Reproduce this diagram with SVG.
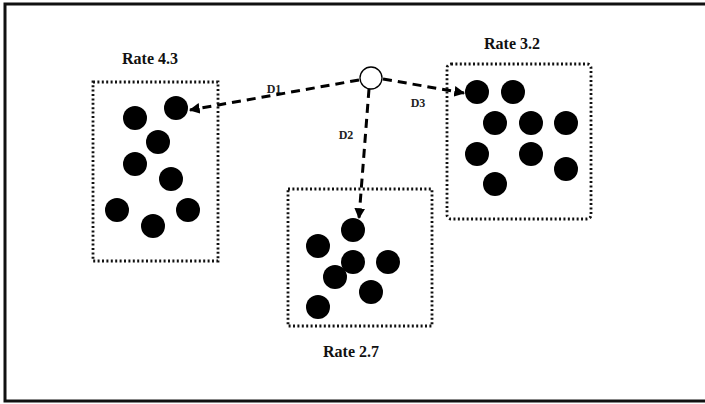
<svg xmlns="http://www.w3.org/2000/svg" width="705" height="404" viewBox="0 0 705 404">
  <defs>
    <marker id="arrow" viewBox="0 0 10 10" refX="9" refY="5" markerWidth="3.6" markerHeight="3.6" orient="auto" markerUnits="strokeWidth">
      <path d="M0,0 L10,5 L0,10 z" fill="#000"/>
    </marker>
  </defs>
  <style>
    .frame { fill: #fff; stroke: #111; stroke-width: 3; }
    .cluster { fill: none; stroke: #111; stroke-width: 2.8; stroke-dasharray: 2 2.4; }
    .dot { fill: #000; }
    .title { font-family: "Liberation Serif", "Times New Roman", serif; font-weight: bold; font-size: 16px; fill: #111; text-anchor: middle; }
    .lbl { font-family: "Liberation Serif", "Times New Roman", serif; font-weight: bold; font-size: 12px; fill: #222; text-anchor: middle; }
    .link { fill: none; stroke: #000; stroke-width: 3; stroke-dasharray: 9 6; marker-end: url(#arrow); }
    .origin { fill: #fff; stroke: #000; stroke-width: 1.3; }
  </style>

  <!-- outer frame (right edge runs past the canvas) -->
  <rect class="frame" x="5" y="4" width="720" height="397"/>

  <!-- connectors -->
  <g id="connectors">
    <line class="link" x1="359" y1="80" x2="190" y2="110"/>
    <line class="link" x1="369" y1="89" x2="359" y2="218"/>
    <line class="link" x1="383" y1="79" x2="464" y2="93"/>
    <text class="lbl" x="274" y="93">D1</text>
    <text class="lbl" x="346" y="139">D2</text>
    <text class="lbl" x="418" y="107">D3</text>
  </g>

  <!-- source node -->
  <g id="origin">
    <circle class="origin" cx="371" cy="78" r="11"/>
  </g>

  <!-- cluster: Rate 4.3 -->
  <g id="cluster-4-3">
    <text class="title" x="150" y="64">Rate 4.3</text>
    <rect class="cluster" x="93" y="82" width="125" height="179"/>
    <circle class="dot" cx="135" cy="118" r="12"/>
    <circle class="dot" cx="176" cy="108" r="12"/>
    <circle class="dot" cx="158" cy="142" r="12"/>
    <circle class="dot" cx="135" cy="164" r="12"/>
    <circle class="dot" cx="171" cy="179" r="12"/>
    <circle class="dot" cx="117" cy="210" r="12"/>
    <circle class="dot" cx="153" cy="226" r="12"/>
    <circle class="dot" cx="188" cy="210" r="12"/>
  </g>

  <!-- cluster: Rate 3.2 -->
  <g id="cluster-3-2">
    <text class="title" x="512" y="49">Rate 3.2</text>
    <rect class="cluster" x="447" y="64" width="144" height="155" rx="4"/>
    <circle class="dot" cx="477" cy="92" r="12"/>
    <circle class="dot" cx="513" cy="92" r="12"/>
    <circle class="dot" cx="495" cy="123" r="12"/>
    <circle class="dot" cx="531" cy="123" r="12"/>
    <circle class="dot" cx="566" cy="123" r="12"/>
    <circle class="dot" cx="477" cy="154" r="12"/>
    <circle class="dot" cx="531" cy="154" r="12"/>
    <circle class="dot" cx="566" cy="169" r="12"/>
    <circle class="dot" cx="495" cy="184" r="12"/>
  </g>

  <!-- cluster: Rate 2.7 -->
  <g id="cluster-2-7">
    <text class="title" x="351" y="357">Rate 2.7</text>
    <rect class="cluster" x="288" y="189" width="144" height="137"/>
    <circle class="dot" cx="353" cy="230" r="12"/>
    <circle class="dot" cx="318" cy="246" r="12"/>
    <circle class="dot" cx="353" cy="262" r="12"/>
    <circle class="dot" cx="388" cy="262" r="12"/>
    <circle class="dot" cx="335" cy="277" r="12"/>
    <circle class="dot" cx="371" cy="292" r="12"/>
    <circle class="dot" cx="318" cy="307" r="12"/>
  </g>
</svg>
